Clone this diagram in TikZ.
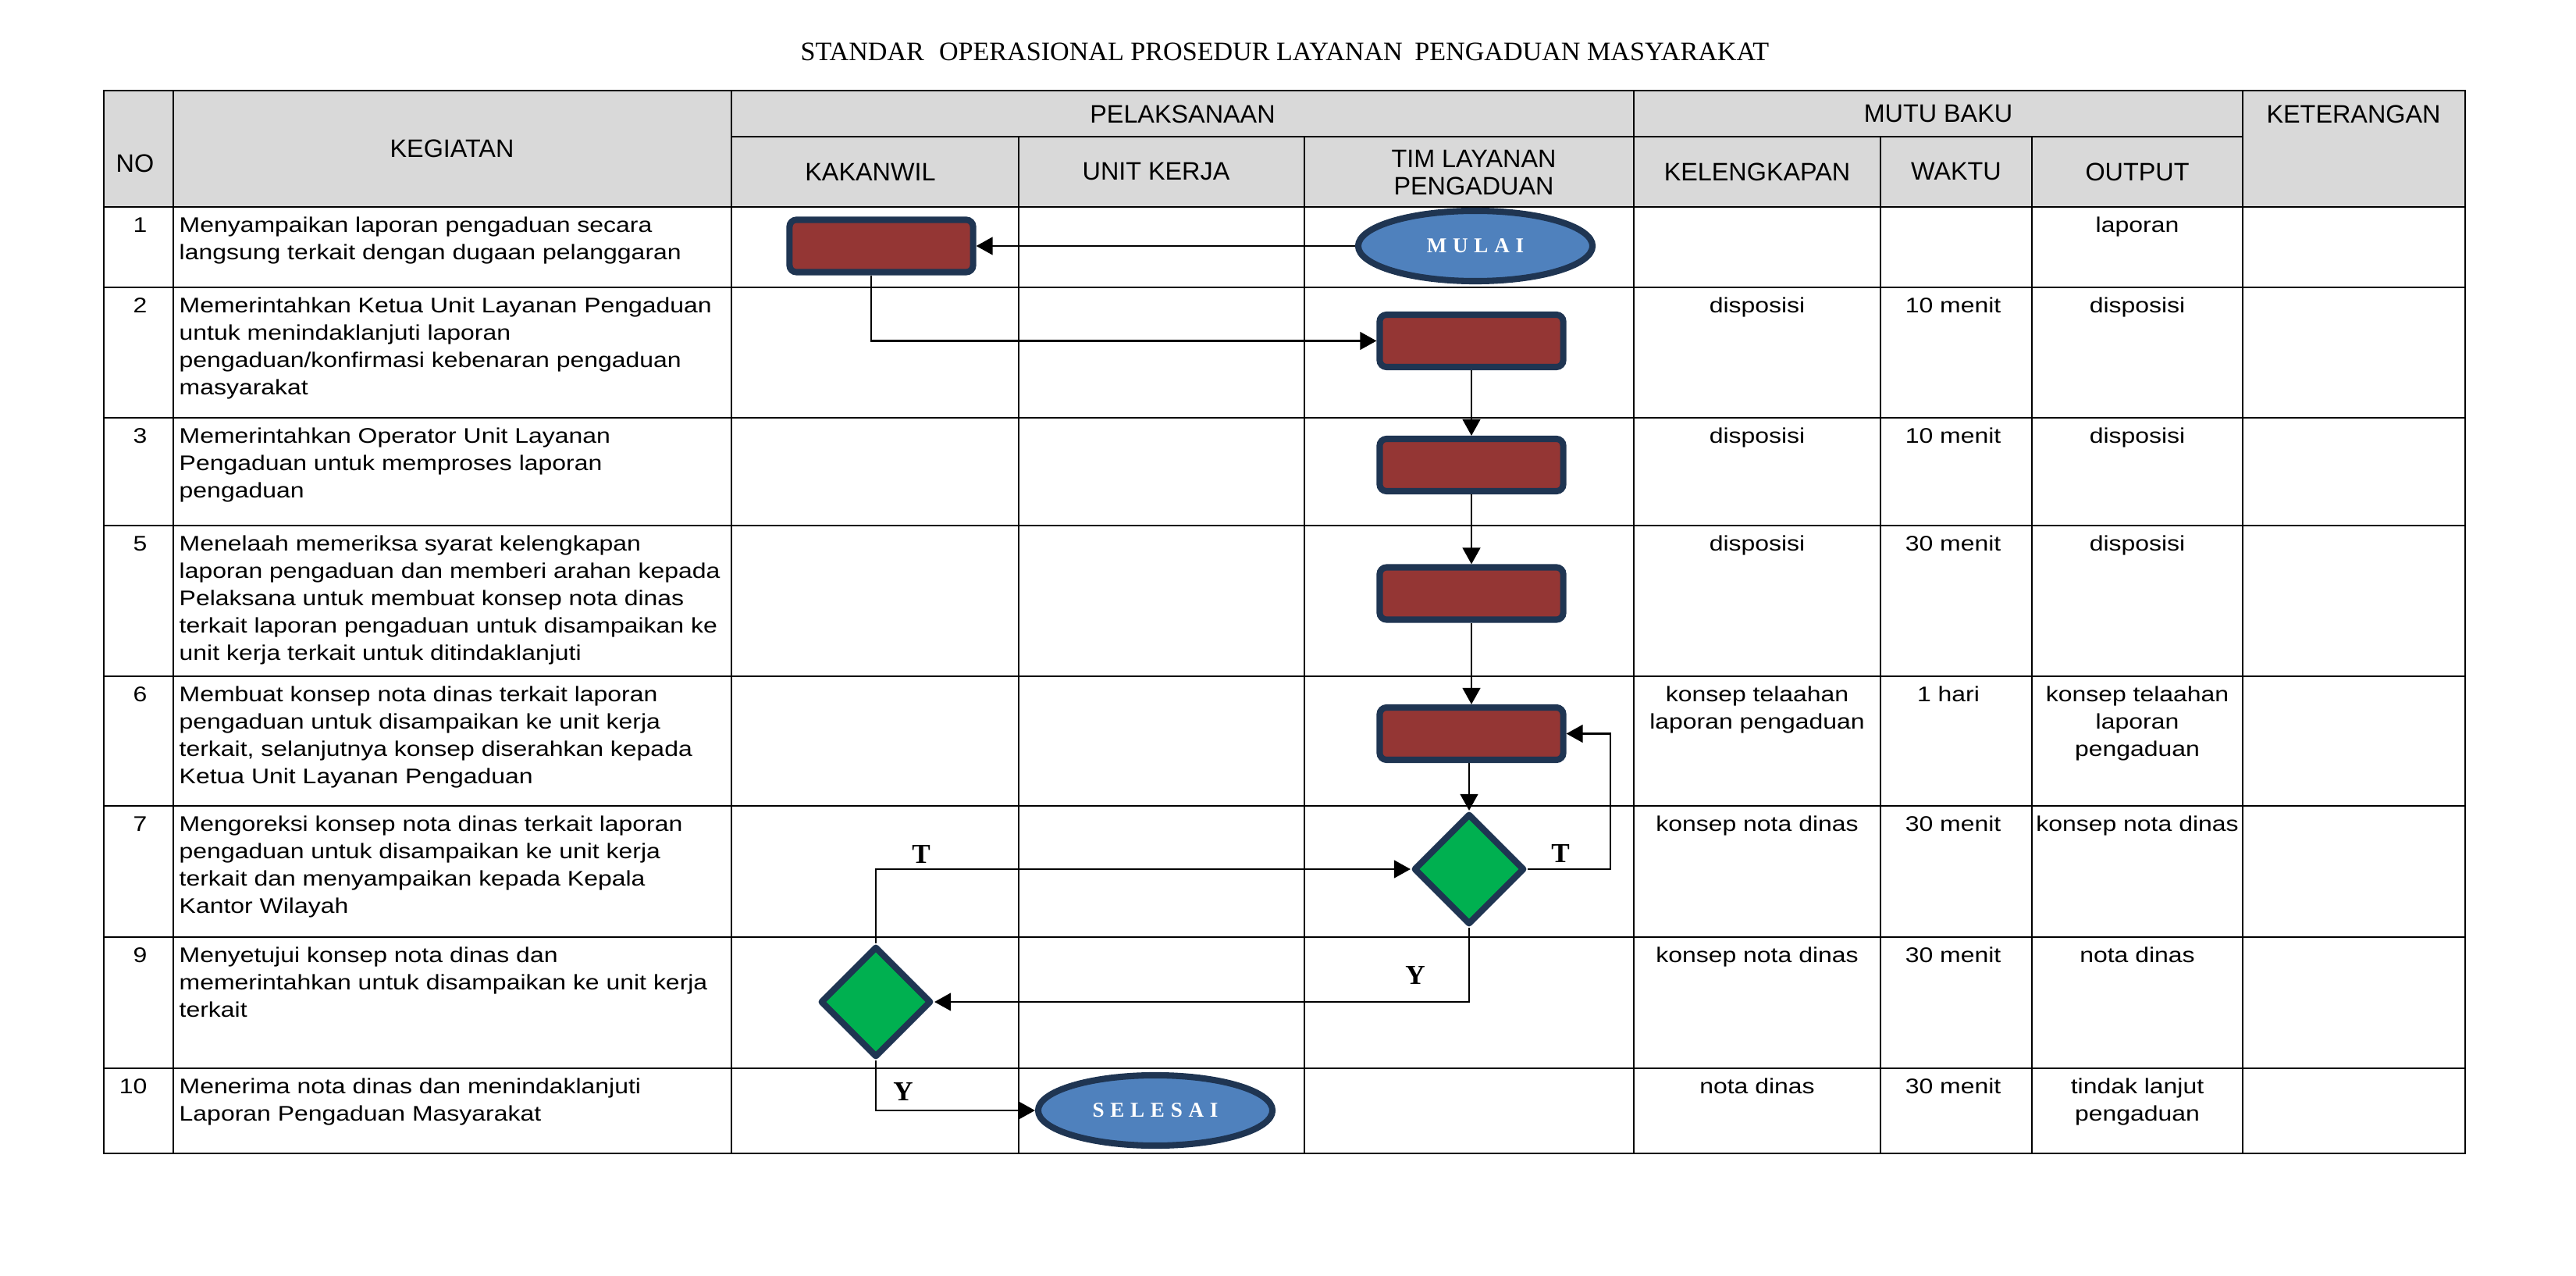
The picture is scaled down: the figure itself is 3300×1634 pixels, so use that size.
\documentclass[tikz,border=0pt]{standalone}
\usepackage{fontspec}
\setmainfont{Liberation Sans}
\newfontfamily\bodyfont[FakeStretch=1.18]{Liberation Sans}
\newfontfamily\serifb{Liberation Serif}
\usetikzlibrary{shapes.geometric,arrows.meta}
\definecolor{navy}{HTML}{1F3552}
\definecolor{boxred}{HTML}{943634}
\definecolor{termblue}{HTML}{4F81BD}
\definecolor{decgreen}{HTML}{00B050}
\definecolor{hdrgray}{HTML}{D9D9D9}
\newcommand{\fls}{\rule{0pt}{6pt}}
\newcommand{\lsp}{\kern2.2pt}
\begin{document}
\begin{tikzpicture}[x=0.01cm,y=-0.01cm,
  grid/.style={line width=0.8pt,line cap=rect},
  conn/.style={line width=0.62pt,-{Triangle[length=6pt,width=6.5pt]}},
  procbox/.style={rectangle,rounded corners=2.5pt,draw=navy,line width=2.3pt,fill=boxred,minimum width=2.35cm,minimum height=0.67cm,inner sep=0pt},
  term/.style={ellipse,draw=navy,line width=2.3pt,fill=termblue,minimum width=3.0cm,minimum height=0.9cm,inner sep=0pt,text=white,font=\serifb\bfseries\fontsize{7.7}{9}\selectfont},
  decision/.style={diamond,draw=navy,line width=2.3pt,fill=decgreen,minimum width=1.42cm,minimum height=1.42cm,inner sep=0pt,line join=round},
  hdr/.style={font=\fontsize{9.2}{10.1}\selectfont,inner sep=0pt,align=center},
  body/.style={font=\bodyfont\fontsize{7.7}{9.96}\selectfont,inner sep=0pt,align=left,anchor=north west},
  numtxt/.style={font=\bodyfont\fontsize{7.7}{9.96}\selectfont,inner sep=0pt,anchor=north east},
  datatxt/.style={font=\bodyfont\fontsize{7.7}{9.96}\selectfont,inner sep=0pt,align=center,anchor=north},
  yt/.style={font=\serifb\bfseries\fontsize{10}{12}\selectfont,inner sep=0pt}
]
\useasboundingbox (0,0) rectangle (3300,1634);
\fill[white] (0,0) rectangle (3300,1634);

% title
\node[inner sep=0pt,font=\serifb\fontsize{9.7}{11.5}\selectfont] (title) at (1646,66)
  {STANDAR\hspace{3pt} OPERASIONAL PROSEDUR LAYANAN\hspace{2pt} PENGADUAN MASYARAKAT};

% header background
\fill[hdrgray] (133,116) rectangle (3158,265);

% grid
\foreach \yy in {116,265,368,535,673,866,1032,1200,1368,1477}
  \draw[grid] (133,\yy) -- (3158,\yy);
\draw[grid] (937,175) -- (2873,175);
\foreach \xx in {133,222,937,2093,2873,3158}
  \draw[grid] (\xx,116) -- (\xx,1477);
\foreach \xx in {1305,1671,2409,2603}
  \draw[grid] (\xx,175) -- (\xx,1477);

% header texts
\node[hdr] (hno) at (173,209) {NO};
\node[hdr] (hkeg) at (579,190) {KEGIATAN};
\node[hdr] (hpel) at (1515,146) {PELAKSANAAN};
\node[hdr] (hmutu) at (2483,146) {MUTU BAKU};
\node[hdr] (hket) at (3015,146) {KETERANGAN};
\node[hdr] (hkak) at (1115,220) {KAKANWIL};
\node[hdr] (hunit) at (1481,220) {UNIT KERJA};
\node[hdr] (htim) at (1888,221) {TIM LAYANAN\\PENGADUAN};
\node[hdr] (hkel) at (2251,220) {KELENGKAPAN};
\node[hdr] (hwak) at (2506,220) {WAKTU};
\node[hdr] (hout) at (2738,220) {OUTPUT};

% row 1
\node[numtxt] (n1) at (189,275.4) {\fls 1};
\node[body] (k1) at (229,275.4) {\fls Menyampaikan laporan pengaduan secara\\langsung terkait dengan dugaan pelanggaran};
\node[datatxt] (o1) at (2738,275.4) {\fls laporan};

% row 2
\node[numtxt] (n2) at (189,378.4) {\fls 2};
\node[body] (k2) at (229,378.4) {\fls Memerintahkan Ketua Unit Layanan Pengaduan\\untuk menindaklanjuti laporan\\pengaduan/konfirmasi kebenaran pengaduan\\masyarakat};
\node[datatxt] (l2) at (2251,378.4) {\fls disposisi};
\node[datatxt] (w2) at (2502,378.4) {\fls 10 menit};
\node[datatxt] (o2) at (2738,378.4) {\fls disposisi};

% row 3
\node[numtxt] (n3) at (189,545.4) {\fls 3};
\node[body] (k3) at (229,545.4) {\fls Memerintahkan Operator Unit Layanan\\Pengaduan untuk memproses laporan\\pengaduan};
\node[datatxt] (l3) at (2251,545.4) {\fls disposisi};
\node[datatxt] (w3) at (2502,545.4) {\fls 10 menit};
\node[datatxt] (o3) at (2738,545.4) {\fls disposisi};

% row 5
\node[numtxt] (n5) at (189,683.4) {\fls 5};
\node[body] (k5) at (229,683.4) {\fls Menelaah memeriksa syarat kelengkapan\\laporan pengaduan dan memberi arahan kepada\\Pelaksana untuk membuat konsep nota dinas\\terkait laporan pengaduan untuk disampaikan ke\\unit kerja terkait untuk ditindaklanjuti};
\node[datatxt] (l5) at (2251,683.4) {\fls disposisi};
\node[datatxt] (w5) at (2502,683.4) {\fls 30 menit};
\node[datatxt] (o5) at (2738,683.4) {\fls disposisi};

% row 6
\node[numtxt] (n6) at (189,876.4) {\fls 6};
\node[body] (k6) at (229,876.4) {\fls Membuat konsep nota dinas terkait laporan\\pengaduan untuk disampaikan ke unit kerja\\terkait, selanjutnya konsep diserahkan kepada\\Ketua Unit Layanan Pengaduan};
\node[datatxt] (l6) at (2251,876.4) {\fls konsep telaahan\\laporan pengaduan};
\node[datatxt] (w6) at (2496,876.4) {\fls 1 hari};
\node[datatxt] (o6) at (2738,876.4) {\fls konsep telaahan\\laporan\\pengaduan};

% row 7
\node[numtxt] (n7) at (189,1042.4) {\fls 7};
\node[body] (k7) at (229,1042.4) {\fls Mengoreksi konsep nota dinas terkait laporan\\pengaduan untuk disampaikan ke unit kerja\\terkait dan menyampaikan kepada Kepala\\Kantor Wilayah};
\node[datatxt] (l7) at (2251,1042.4) {\fls konsep nota dinas};
\node[datatxt] (w7) at (2502,1042.4) {\fls 30 menit};
\node[datatxt] (o7) at (2738,1042.4) {\fls konsep nota dinas};

% row 9
\node[numtxt] (n9) at (189,1210.4) {\fls 9};
\node[body] (k9) at (229,1210.4) {\fls Menyetujui konsep nota dinas dan\\memerintahkan untuk disampaikan ke unit kerja\\terkait};
\node[datatxt] (l9) at (2251,1210.4) {\fls konsep nota dinas};
\node[datatxt] (w9) at (2502,1210.4) {\fls 30 menit};
\node[datatxt] (o9) at (2738,1210.4) {\fls nota dinas};

% row 10
\node[numtxt] (n10) at (189,1378.4) {\fls 10};
\node[body] (k10) at (229,1378.4) {\fls Menerima nota dinas dan menindaklanjuti\\Laporan Pengaduan Masyarakat};
\node[datatxt] (l10) at (2251,1378.4) {\fls nota dinas};
\node[datatxt] (w10) at (2502,1378.4) {\fls 30 menit};
\node[datatxt] (o10) at (2738,1378.4) {\fls tindak lanjut\\pengaduan};

% flow shapes
\node[term] (mulai) at (1890,315) {M\lsp U\lsp L\lsp A\lsp I};
\node[procbox] (b1) at (1129,315) {};
\node[procbox] (b2) at (1885,436.5) {};
\node[procbox] (b3) at (1885,595.5) {};
\node[procbox] (b5) at (1885,760) {};
\node[procbox] (b6) at (1885,939.5) {};
\node[decision] (d1) at (1882,1113) {};
\node[decision] (d2) at (1122,1283) {};
\node[term] (selesai) at (1480,1422) {S\lsp E\lsp L\lsp E\lsp S\lsp A\lsp I};

% connectors
\draw[conn] (mulai.west) -- (b1.east);
\draw[conn] ([xshift=-0.13cm]b1.south) |- (b2.west);
\draw[conn] (b2.south) -- (b3.north);
\draw[conn] (b3.south) -- (b5.north);
\draw[conn] (b5.south) -- (b6.north);
\draw[conn] (b6.south -| d1.north) -- (d1.north);
\draw[conn] (d1.east) -- ++(106,0) |- (b6.east);
\draw[conn] (d2.north) |- (d1.west);
\draw[conn] (d1.south) |- (d2.east);
\draw[conn] (d2.south) |- (selesai.west);

% branch labels
\node[yt] (t1) at (1999,1093) {T};
\node[yt] (t2) at (1180,1094) {T};
\node[yt] (y1) at (1813,1249) {Y};
\node[yt] (y2) at (1157,1398) {Y};
\end{tikzpicture}
\end{document}
